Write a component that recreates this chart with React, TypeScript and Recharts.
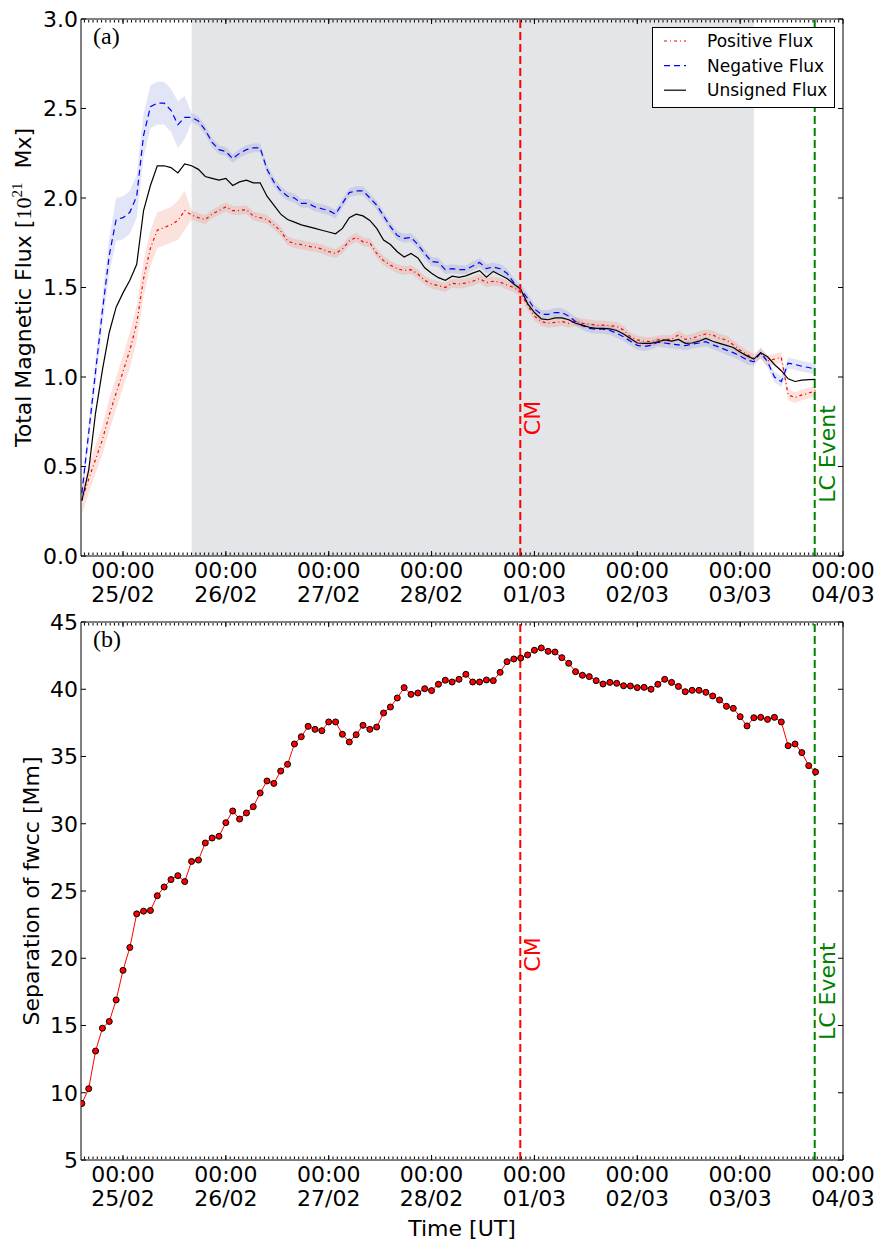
import React from "react";
import {
  ComposedChart,
  Line,
  Area,
  XAxis,
  YAxis,
  ReferenceArea,
  ReferenceLine,
  Legend,
} from "recharts";

const FONT = "'DejaVu Sans', sans-serif";
const SERIF = "'Liberation Serif', 'DejaVu Serif', serif";

// frames every 96 min, first one 24/02 14:24 UT; time in hours from 25/02 00:00 UT
const FIRST_FRAME_H = -9.6;
const CADENCE_H = 1.6;
const X_DOMAIN: [number, number] = [-9.8, 168];

const dayTicks = [0, 24, 48, 72, 96, 120, 144, 168];
const dayLabels = ["25/02", "26/02", "27/02", "28/02", "01/03", "02/03", "03/03", "04/03"];
const hourTicks = Array.from({ length: 177 }, (_, i) => i - 9);

const fluxTicks = [0, 0.5, 1, 1.5, 2, 2.5, 3];
const sepTicks = [5, 10, 15, 20, 25, 30, 35, 40, 45];

const shadeStartH = 16;
const shadeEndH = 147.2;
const cmH = 92.7;
const lcEventH = 161.4;

// total magnetic flux [1e21 Mx]
const posFlux = [
  0.31, 0.43, 0.54, 0.65, 0.79, 0.91, 1.03, 1.15, 1.3, 1.55,
  1.72, 1.82, 1.835, 1.85, 1.875, 1.93, 1.905, 1.89, 1.88, 1.91,
  1.93, 1.95, 1.93, 1.93, 1.935, 1.9, 1.89, 1.88, 1.85, 1.815,
  1.76, 1.745, 1.74, 1.73, 1.725, 1.715, 1.7, 1.69, 1.715, 1.76,
  1.78, 1.755, 1.75, 1.69, 1.65, 1.625, 1.605, 1.595, 1.6, 1.575,
  1.54, 1.52, 1.51, 1.5, 1.523, 1.52, 1.525, 1.535, 1.55, 1.527,
  1.535, 1.53, 1.514, 1.5, 1.47, 1.4, 1.34, 1.31, 1.3, 1.305,
  1.31, 1.3, 1.31, 1.3, 1.296, 1.29, 1.29, 1.287, 1.283, 1.262,
  1.225, 1.207, 1.2, 1.197, 1.207, 1.21, 1.21, 1.235, 1.21, 1.216,
  1.23, 1.24, 1.235, 1.216, 1.207, 1.18, 1.15, 1.125, 1.104, 1.13,
  1.09, 1.1, 1.11, 0.9, 0.885, 0.9, 0.91, 0.923,
];
const negFlux = [
  0.35, 0.69, 1.03, 1.37, 1.68, 1.88, 1.89, 1.92, 2.01, 2.35,
  2.51, 2.53, 2.53, 2.49, 2.41, 2.45, 2.45, 2.43, 2.38, 2.31,
  2.27, 2.26, 2.22, 2.25, 2.27, 2.28, 2.28, 2.16, 2.09, 2.04,
  2.01, 2.0, 1.97, 1.97, 1.95, 1.94, 1.93, 1.91, 1.97, 2.03,
  2.04, 2.04, 2.0, 1.96, 1.9, 1.84, 1.79, 1.775, 1.78, 1.74,
  1.69, 1.645, 1.64, 1.6, 1.605, 1.6, 1.6, 1.62, 1.64, 1.605,
  1.615, 1.605, 1.58, 1.527, 1.49, 1.44, 1.38, 1.35, 1.35, 1.36,
  1.36, 1.34, 1.31, 1.287, 1.272, 1.267, 1.267, 1.26, 1.244, 1.225,
  1.2, 1.177, 1.17, 1.177, 1.194, 1.19, 1.184, 1.18, 1.175, 1.184,
  1.19, 1.197, 1.18, 1.166, 1.15, 1.136, 1.117, 1.095, 1.085, 1.136,
  1.085, 1.0, 0.974, 1.077, 1.07, 1.06, 1.053, 1.043,
];
const unsignedFlux = [
  0.31, 0.48, 0.8, 1.04, 1.25, 1.39, 1.47, 1.54, 1.63, 1.93,
  2.07, 2.18, 2.18, 2.17, 2.14, 2.19, 2.18, 2.16, 2.12, 2.11,
  2.1, 2.11, 2.07, 2.09, 2.1, 2.085, 2.085, 2.01, 1.96, 1.91,
  1.88, 1.865, 1.85, 1.84, 1.83, 1.82, 1.81, 1.8, 1.83, 1.89,
  1.91, 1.9, 1.875, 1.83, 1.765, 1.74, 1.7, 1.67, 1.69, 1.665,
  1.61, 1.58, 1.555, 1.54, 1.563, 1.557, 1.565, 1.58, 1.594, 1.557,
  1.59, 1.57, 1.55, 1.52, 1.49, 1.41, 1.36, 1.325, 1.32, 1.33,
  1.33, 1.32, 1.3, 1.29, 1.278, 1.272, 1.272, 1.269, 1.26, 1.24,
  1.215, 1.19, 1.188, 1.188, 1.197, 1.207, 1.2, 1.21, 1.188, 1.19,
  1.2, 1.216, 1.2, 1.188, 1.177, 1.165, 1.14, 1.118, 1.1, 1.136,
  1.113, 1.07, 1.035, 0.99, 0.975, 0.983, 0.985, 0.987,
];
// flux uncertainties (half width of the shaded bands)
const posErr = [
  0.08, 0.08, 0.08, 0.08, 0.09, 0.09, 0.09, 0.1, 0.1, 0.1,
  0.1, 0.1, 0.1, 0.1, 0.11, 0.11, 0.025, 0.025, 0.025, 0.025,
  0.025, 0.025, 0.025, 0.025, 0.025, 0.025, 0.025, 0.025, 0.025, 0.025,
  0.025, 0.025, 0.025, 0.025, 0.025, 0.025, 0.025, 0.025, 0.025, 0.025,
  0.025, 0.025, 0.025, 0.025, 0.025, 0.025, 0.025, 0.025, 0.025, 0.025,
  0.025, 0.025, 0.025, 0.025, 0.025, 0.025, 0.025, 0.025, 0.025, 0.025,
  0.025, 0.025, 0.025, 0.025, 0.025, 0.025, 0.025, 0.025, 0.025, 0.025,
  0.025, 0.025, 0.025, 0.025, 0.025, 0.025, 0.025, 0.025, 0.025, 0.025,
  0.025, 0.025, 0.025, 0.025, 0.025, 0.025, 0.025, 0.025, 0.025, 0.025,
  0.025, 0.025, 0.025, 0.025, 0.025, 0.025, 0.025, 0.025, 0.025, 0.03,
  0.03, 0.03, 0.03, 0.03, 0.03, 0.03, 0.03, 0.03,
];
const negErr = [
  0.05, 0.06, 0.07, 0.08, 0.1, 0.12, 0.12, 0.12, 0.12, 0.12,
  0.12, 0.12, 0.12, 0.12, 0.13, 0.12, 0.025, 0.025, 0.025, 0.025,
  0.025, 0.025, 0.025, 0.025, 0.025, 0.025, 0.025, 0.025, 0.025, 0.025,
  0.025, 0.025, 0.025, 0.025, 0.025, 0.025, 0.025, 0.025, 0.025, 0.025,
  0.025, 0.025, 0.025, 0.025, 0.025, 0.025, 0.025, 0.025, 0.025, 0.025,
  0.025, 0.025, 0.025, 0.025, 0.025, 0.025, 0.025, 0.025, 0.025, 0.025,
  0.025, 0.025, 0.025, 0.025, 0.025, 0.025, 0.025, 0.025, 0.025, 0.025,
  0.025, 0.025, 0.025, 0.025, 0.025, 0.025, 0.025, 0.025, 0.025, 0.025,
  0.025, 0.025, 0.025, 0.025, 0.025, 0.025, 0.025, 0.025, 0.025, 0.025,
  0.025, 0.025, 0.025, 0.025, 0.025, 0.025, 0.025, 0.025, 0.025, 0.03,
  0.03, 0.03, 0.03, 0.03, 0.03, 0.03, 0.03, 0.03,
];
// separation of flux-weighted centres [Mm]
const separation = [
  9.2, 10.3, 13.1, 14.8, 15.3, 16.9, 19.1, 20.8, 23.3, 23.5,
  23.55, 24.65, 25.3, 25.85, 26.14, 25.7, 27.2, 27.3, 28.57, 28.94,
  29.07, 30.08, 30.95, 30.35, 30.8, 31.27, 32.29, 33.18, 33.0, 33.92,
  34.42, 35.93, 36.47, 37.24, 37.02, 36.92, 37.57, 37.57, 36.65, 36.08,
  36.62, 37.32, 37.02, 37.19, 38.23, 38.68, 39.35, 40.12, 39.62, 39.72,
  40.04, 39.9, 40.37, 40.67, 40.54, 40.74, 41.11, 40.54, 40.54, 40.69,
  40.64, 41.26, 42.05, 42.25, 42.32, 42.55, 42.9, 43.07, 42.82, 42.77,
  42.35, 41.93, 41.31, 41.04, 40.94, 40.64, 40.39, 40.51, 40.44, 40.26,
  40.24, 40.12, 40.14, 40.0, 40.37, 40.74, 40.51, 40.21, 39.82, 39.92,
  39.92, 39.77, 39.5, 39.2, 38.73, 38.58, 37.96, 37.27, 37.88, 37.91,
  37.76, 37.91, 37.57, 35.8, 35.93, 35.29, 34.32, 33.85,
];

const hours = separation.map((_, i) => +(FIRST_FRAME_H + i * CADENCE_H).toFixed(2));

const fluxData = hours.map((t, i) => ({
  t,
  pos: posFlux[i],
  neg: negFlux[i],
  unsigned: unsignedFlux[i],
  posBand: [posFlux[i] - posErr[i], posFlux[i] + posErr[i]],
  negBand: [negFlux[i] - negErr[i], negFlux[i] + negErr[i]],
}));
const sepData = hours.map((t, i) => ({ t, sep: separation[i] }));

const fluxStyles: Record<string, { name: string; color: string; dash?: string }> = {
  pos: { name: "Positive Flux", color: "#ff0000", dash: "3 3 1 3" },
  neg: { name: "Negative Flux", color: "#0000ff", dash: "6 4" },
  unsigned: { name: "Unsigned Flux", color: "#000000" },
};
const legendOrder = ["pos", "neg", "unsigned"];

function DateTick(props: any) {
  const { x, y, payload } = props;
  const i = dayTicks.indexOf(payload.value);
  return (
    <text x={x} y={y} textAnchor="middle" fontSize={22} fontFamily={FONT} fill="#000">
      <tspan x={x} dy={22}>00:00</tspan>
      <tspan x={x} dy={24}>{dayLabels[i]}</tspan>
    </text>
  );
}

function ValueTick(props: any) {
  const { x, y, payload, digits } = props;
  return (
    <text x={x} y={y} dy="0.36em" textAnchor="end" fontSize={22} fontFamily={FONT} fill="#000">
      {Number(payload.value).toFixed(digits)}
    </text>
  );
}

const NoTick = () => <g />;

function YTitle(props: any) {
  const vb = props.viewBox || { x: 0, y: 0, height: 0 };
  const cx = vb.x + props.baseX;
  const cy = vb.y + vb.height / 2;
  return (
    <text
      x={cx}
      y={cy}
      transform={`rotate(-90 ${cx} ${cy})`}
      textAnchor="middle"
      fontSize={22}
      fontFamily={FONT}
      fill="#000"
    >
      {props.children}
    </text>
  );
}

function XTitle(props: any) {
  const vb = props.viewBox || { x: 0, y: 0, width: 0 };
  return (
    <text x={vb.x + vb.width / 2} y={vb.y + 76} textAnchor="middle" fontSize={22} fontFamily={FONT} fill="#000">
      Time [UT]
    </text>
  );
}

function PanelTag(props: any) {
  const vb = props.viewBox || { x: 0, y: 0 };
  return (
    <text x={vb.x + 12} y={vb.y + 25} fontSize={24} fontFamily={SERIF} fill="#000">
      {props.text}
    </text>
  );
}

function EventLabel(props: any) {
  const vb = props.viewBox || { x: 0, y: 0, height: 0 };
  const x = vb.x + 20;
  const y = vb.y + vb.height * props.frac;
  return (
    <text
      x={x}
      y={y}
      transform={`rotate(-90 ${x} ${y})`}
      textAnchor="start"
      fontSize={22}
      fontFamily={FONT}
      fill={props.color}
    >
      {props.text}
    </text>
  );
}

function FluxLegend(props: any) {
  const items = (props.payload || [])
    .filter((p: any) => legendOrder.includes(p.dataKey))
    .sort((a: any, b: any) => legendOrder.indexOf(a.dataKey) - legendOrder.indexOf(b.dataKey));
  return (
    <svg width={183} height={81} style={{ display: "block" }}>
      <rect x={0.5} y={0.5} width={182} height={80} fill="#fff" stroke="#000" strokeWidth={1} />
      {items.map((p: any, i: number) => {
        const s = fluxStyles[p.dataKey];
        const y = 14 + i * 24.6;
        return (
          <g key={p.dataKey}>
            <line x1={12} x2={34} y1={y} y2={y} stroke={s.color} strokeWidth={1.2} strokeDasharray={s.dash} />
            <text x={55} y={y} dy="0.36em" fontSize={17} fontFamily={FONT} fill="#000">
              {s.name}
            </text>
          </g>
        );
      })}
    </svg>
  );
}

// inward ticks on all four sides, like the matplotlib frame
function frameAxes(yId: string, yDomain: [number, number], yTicks: number[], tag: string) {
  const tickLine = { stroke: "#000", strokeWidth: 1 };
  const axisLine = { stroke: "#000", strokeWidth: 1 };
  const common = { dataKey: "t", type: "number" as const, domain: X_DOMAIN, allowDataOverflow: true, interval: 0 as const, mirror: true, height: 1, tick: NoTick, tickLine };
  return [
    <XAxis key="bMaj" xAxisId="bMaj" {...common} ticks={dayTicks} tickSize={5} axisLine={axisLine} />,
    <XAxis key="bMin" xAxisId="bMin" {...common} ticks={hourTicks} tickSize={2.5} axisLine={false} />,
    <XAxis key="tMaj" xAxisId="tMaj" orientation="top" {...common} ticks={dayTicks} tickSize={5}
      axisLine={axisLine} label={<PanelTag text={tag} />} />,
    <XAxis key="tMin" xAxisId="tMin" orientation="top" {...common} ticks={hourTicks} tickSize={2.5}
      axisLine={false} />,
    <YAxis key="lTick" yAxisId={yId + "L"} type="number" domain={yDomain} allowDataOverflow ticks={yTicks}
      interval={0} mirror width={1} tickSize={5} tick={NoTick} tickLine={tickLine} axisLine={axisLine} />,
    <YAxis key="rTick" yAxisId={yId + "R"} orientation="right" type="number" domain={yDomain} allowDataOverflow
      ticks={yTicks} interval={0} mirror width={1} tickSize={5} tick={NoTick} tickLine={tickLine}
      axisLine={axisLine} />,
  ];
}

function FluxPanel() {
  return (
    <ComposedChart width={880} height={616} data={fluxData} margin={{ top: 19, right: 37, bottom: 0, left: 0 }}>
      <XAxis xAxisId="t" dataKey="t" type="number" domain={X_DOMAIN} allowDataOverflow ticks={dayTicks}
        interval={0} height={60} tickSize={0} tickMargin={0} tickLine={false} axisLine={false}
        tick={<DateTick />} />
      <YAxis yAxisId="f" type="number" domain={[0, 3]} allowDataOverflow ticks={fluxTicks} interval={0}
        width={81} tickSize={0} tickMargin={3} tickLine={false} axisLine={false}
        tick={<ValueTick digits={1} />}
        label={
          <YTitle baseX={31}>
            Total Magnetic Flux [<tspan fontFamily={SERIF}>10</tspan>
            <tspan fontFamily={SERIF} fontSize={15} dy={-9}>21</tspan>
            <tspan dy={9}>{"\u00a0 Mx]"}</tspan>
          </YTitle>
        } />
      <ReferenceArea xAxisId="t" yAxisId="f" x1={shadeStartH} x2={shadeEndH} y1={0} y2={3}
        fill="#e4e5e8" fillOpacity={1} stroke="none" />
      <Area xAxisId="t" yAxisId="f" type="linear" dataKey="negBand" stroke="none" fill="#6070c8"
        fillOpacity={0.18} legendType="none" dot={false} activeDot={false} isAnimationActive={false} />
      <Area xAxisId="t" yAxisId="f" type="linear" dataKey="posBand" stroke="none" fill="#f07050"
        fillOpacity={0.2} legendType="none" dot={false} activeDot={false} isAnimationActive={false} />
      {legendOrder.map((k) => (
        <Line key={k} xAxisId="t" yAxisId="f" type="linear" dataKey={k} name={fluxStyles[k].name}
          stroke={fluxStyles[k].color} strokeWidth={1.2} strokeDasharray={fluxStyles[k].dash}
          dot={false} activeDot={false} isAnimationActive={false} />
      ))}
      <ReferenceLine xAxisId="t" yAxisId="f" x={cmH} stroke="#ff0000" strokeWidth={2} strokeDasharray="8 4"
        label={<EventLabel text="CM" color="#ff0000" frac={0.775} />} />
      <ReferenceLine xAxisId="t" yAxisId="f" x={lcEventH} stroke="#008000" strokeWidth={2}
        strokeDasharray="8 4" label={<EventLabel text="LC Event" color="#008000" frac={0.901} />} />
      {frameAxes("f", [0, 3], fluxTicks, "(a)")}
      <Legend layout="vertical" align="center" verticalAlign="middle" content={<FluxLegend />}
        wrapperStyle={{ position: "absolute", left: 652, top: 27, width: 183, height: 81 }} />
    </ComposedChart>
  );
}

function SeparationPanel() {
  return (
    <ComposedChart width={880} height={641} data={sepData} margin={{ top: 22, right: 37, bottom: 0, left: 0 }}>
      <XAxis xAxisId="t" dataKey="t" type="number" domain={X_DOMAIN} allowDataOverflow ticks={dayTicks}
        interval={0} height={81} tickSize={0} tickMargin={0} tickLine={false} axisLine={false}
        tick={<DateTick />} label={<XTitle />} />
      <YAxis yAxisId="s" type="number" domain={[5, 45]} allowDataOverflow ticks={sepTicks} interval={0}
        width={81} tickSize={0} tickMargin={3} tickLine={false} axisLine={false}
        tick={<ValueTick digits={0} />}
        label={<YTitle baseX={39}>Separation of fwcc [Mm]</YTitle>} />
      <Line xAxisId="t" yAxisId="s" type="linear" dataKey="sep" stroke="#ff0000" strokeWidth={1}
        dot={{ r: 3, fill: "#ff0000", stroke: "#000", strokeWidth: 1 }} activeDot={false}
        isAnimationActive={false} />
      <ReferenceLine xAxisId="t" yAxisId="s" x={cmH} stroke="#ff0000" strokeWidth={2} strokeDasharray="8 4"
        label={<EventLabel text="CM" color="#ff0000" frac={0.65} />} />
      <ReferenceLine xAxisId="t" yAxisId="s" x={lcEventH} stroke="#008000" strokeWidth={2}
        strokeDasharray="8 4" label={<EventLabel text="LC Event" color="#008000" frac={0.777} />} />
      {frameAxes("s", [5, 45], sepTicks, "(b)")}
    </ComposedChart>
  );
}

export default function App() {
  return (
    <div style={{ position: "absolute", left: 0, top: 0, width: 880, height: 1241, background: "#fff" }}>
      <div style={{ position: "absolute", left: 0, top: 0 }}>
        <FluxPanel />
      </div>
      <div style={{ position: "absolute", left: 0, top: 600 }}>
        <SeparationPanel />
      </div>
    </div>
  );
}
